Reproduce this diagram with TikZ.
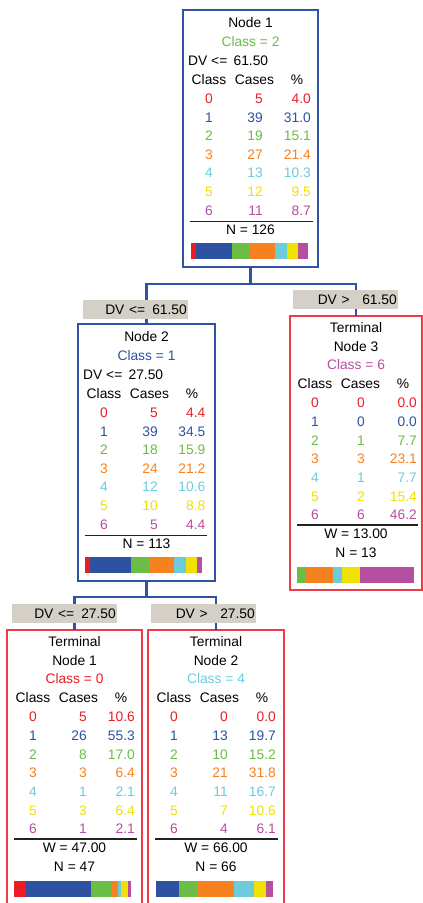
\documentclass[tikz,border=0pt]{standalone}
\usepackage{fontspec}
\setmainfont{Liberation Sans}
\definecolor{cls0}{HTML}{ED1C24}
\definecolor{cls1}{HTML}{2E52A0}
\definecolor{cls2}{HTML}{6ABD45}
\definecolor{cls3}{HTML}{F68121}
\definecolor{cls4}{HTML}{6CCCDC}
\definecolor{cls5}{HTML}{F0E100}
\definecolor{cls6}{HTML}{B64FA0}
\definecolor{boxblue}{HTML}{2F52A3}
\definecolor{boxred}{HTML}{EE3B47}
\definecolor{lblgray}{HTML}{D4D0C8}
\definecolor{rulecol}{HTML}{222222}
\tikzset{
  txt/.style={inner sep=0pt, font=\fontsize{13.8}{16}\selectfont, text height=9.9pt, text depth=0pt},
  splitbox/.style={draw=boxblue, line width=2pt, fill=white, inner sep=0pt, outer sep=0pt, anchor=north west},
  termbox/.style={draw=boxred, line width=1.2pt, fill=white, inner sep=0pt, outer sep=0pt, anchor=north west},
  conn/.style={draw=boxblue, line width=2.2pt},
  lbl/.style={txt, fill=lblgray, text width=103pt, align=right, inner xsep=1pt, inner ysep=0pt, minimum height=19pt, anchor=east},
  rl/.style={draw=rulecol, line width=1.3pt},
}
% #1 prefix, #2 left, #3 first row y, #4 cases offset, #5 pct offset, #6 list k/cases/pct
\newcommand{\ndtable}[6]{%
  \foreach \k/\cs/\pc in {#6} {
    \node[txt,text=cls\k] (#1c\k) at ({#2+26},{#3+18.62*\k}) {\k};
    \node[txt,text=cls\k,anchor=east] (#1n\k) at ({#2+#4},{#3+18.62*\k}) {\cs};
    \node[txt,text=cls\k,anchor=east] (#1p\k) at ({#2+#5},{#3+18.62*\k}) {\pc};
  }}
% #1 prefix, #2 left, #3 y
\newcommand{\ndhead}[3]{%
  \node[txt] (#1h1) at ({#2+26},{#3}) {Class};
  \node[txt] (#1h2) at ({#2+71.5},{#3}) {Cases};
  \node[txt] (#1h3) at ({#2+114},{#3}) {\%};}
% #1 left x, #2 top y, #3 list of pct
\newcommand{\ndbar}[3]{%
  \gdef\barpos{0}%
  \foreach \pc [count=\k from 0] in {#3} {
    \fill[cls\k] ({#1+1.17*\barpos},{#2}) rectangle ({#1+1.17*(\barpos+\pc)},{#2+15.8});
    \pgfmathsetmacro\barnext{\barpos+\pc}
    \global\let\barpos\barnext
  }}
\begin{document}
\begin{tikzpicture}[x=1pt,y=-1pt]
\fill[white] (0,0) rectangle (423,903);
\useasboundingbox (0,0) rectangle (423,903);
% boxes
\node[splitbox, minimum width=135pt, minimum height=257pt] (n1) at (183,10) {};
\node[splitbox, minimum width=137pt, minimum height=257pt] (n2) at (78,324) {};
\node[termbox, minimum width=132pt, minimum height=274pt] (t3) at (290,316) {};
\node[termbox, minimum width=135pt, minimum height=276pt] (t1) at (7,630) {};
\node[termbox, minimum width=136pt, minimum height=276pt] (t2) at (148,630) {};
% connectors
\draw[conn] (n1.south) -- ++(0,17) coordinate (j1);
\draw[conn] (n2.north) |- (j1) -| (t3.north);
\draw[conn] (n2.south) -- ++(0,16) coordinate (j2);
\draw[conn] (t1.north) |- (j2) -| (t2.north);
% split labels
\node[lbl] (l1) at (188,309.5) {DV <= \hspace{2.5pt}61.50};
\node[lbl] (l2) at (398,299.5) {DV >\phantom{=} 61.50};
\node[lbl] (l3) at (117,613.5) {DV <= \hspace{2.5pt}27.50};
\node[lbl] (l4) at (256,613.5) {DV >\phantom{=} 27.50};
% ---- Node 1
\node[txt] (n1title) at (250.5,23) {Node 1};
\node[txt,text=cls2] (n1class) at (250.5,41.5) {Class = 2};
\node[txt,anchor=west] (n1dv) at (188,60.5) {DV <= \hspace{2.5pt}61.50};
\ndhead{n1}{183}{79.5}
\ndtable{n1}{183}{98.5}{80}{128}{0/5/4.0,1/39/31.0,2/19/15.1,3/27/21.4,4/13/10.3,5/12/9.5,6/11/8.7}
\draw[rl] (190,221.5) -- (313,221.5);
\node[txt] (n1n) at (250.5,230) {N = 126};
\ndbar{191}{243.3}{4.0,31.0,15.1,21.4,10.3,9.5,8.7}
% ---- Node 2
\node[txt] (n2title) at (146.5,337) {Node 2};
\node[txt,text=cls1] (n2class) at (146.5,355.5) {Class = 1};
\node[txt,anchor=west] (n2dv) at (83,374.5) {DV <= \hspace{2.5pt}27.50};
\ndhead{n2}{78}{393.5}
\ndtable{n2}{78}{412.5}{80}{127.5}{0/5/4.4,1/39/34.5,2/18/15.9,3/24/21.2,4/12/10.6,5/10/8.8,6/5/4.4}
\draw[rl] (85,535.5) -- (207,535.5);
\node[txt] (n2n) at (146.5,544) {N = 113};
\ndbar{85}{557}{4.4,34.5,15.9,21.2,10.6,8.8,4.4}
% ---- Terminal Node 3
\node[txt] (t3a) at (356,327.5) {Terminal};
\node[txt] (t3b) at (356,346.5) {Node 3};
\node[txt,text=cls6] (t3class) at (356,365) {Class = 6};
\ndhead{t3}{289}{384}
\ndtable{t3}{289}{403}{76}{128}{0/0/0.0,1/0/0.0,2/1/7.7,3/3/23.1,4/1/7.7,5/2/15.4,6/6/46.2}
\draw[rl] (297,525) -- (418,525);
\node[txt] (t3w) at (356,534) {W = 13.00};
\node[txt] (t3n) at (356,553) {N = 13};
\ndbar{297}{567}{0.0,0.0,7.7,23.1,7.7,15.4,46.2}
% ---- Terminal Node 1
\node[txt] (t1a) at (74.5,641.5) {Terminal};
\node[txt] (t1b) at (74.5,660.5) {Node 1};
\node[txt,text=cls0] (t1class) at (74.5,679) {Class = 0};
\ndhead{t1}{7}{698}
\ndtable{t1}{7}{717}{80}{128}{0/5/10.6,1/26/55.3,2/8/17.0,3/3/6.4,4/1/2.1,5/3/6.4,6/1/2.1}
\draw[rl] (14,839) -- (137,839);
\node[txt] (t1w) at (74.5,848) {W = 47.00};
\node[txt] (t1n) at (74.5,867) {N = 47};
\ndbar{14}{881}{10.6,55.3,17.0,6.4,2.1,6.4,2.1}
% ---- Terminal Node 2
\node[txt] (t2a) at (216,641.5) {Terminal};
\node[txt] (t2b) at (216,660.5) {Node 2};
\node[txt,text=cls4] (t2class) at (216,679) {Class = 4};
\ndhead{t2}{148}{698}
\ndtable{t2}{148}{717}{80}{128}{0/0/0.0,1/13/19.7,2/10/15.2,3/21/31.8,4/11/16.7,5/7/10.6,6/4/6.1}
\draw[rl] (155,839) -- (278,839);
\node[txt] (t2w) at (216,848) {W = 66.00};
\node[txt] (t2n) at (216,867) {N = 66};
\ndbar{156}{881}{0.0,19.7,15.2,31.8,16.7,10.6,6.1}
\end{tikzpicture}
\end{document}
